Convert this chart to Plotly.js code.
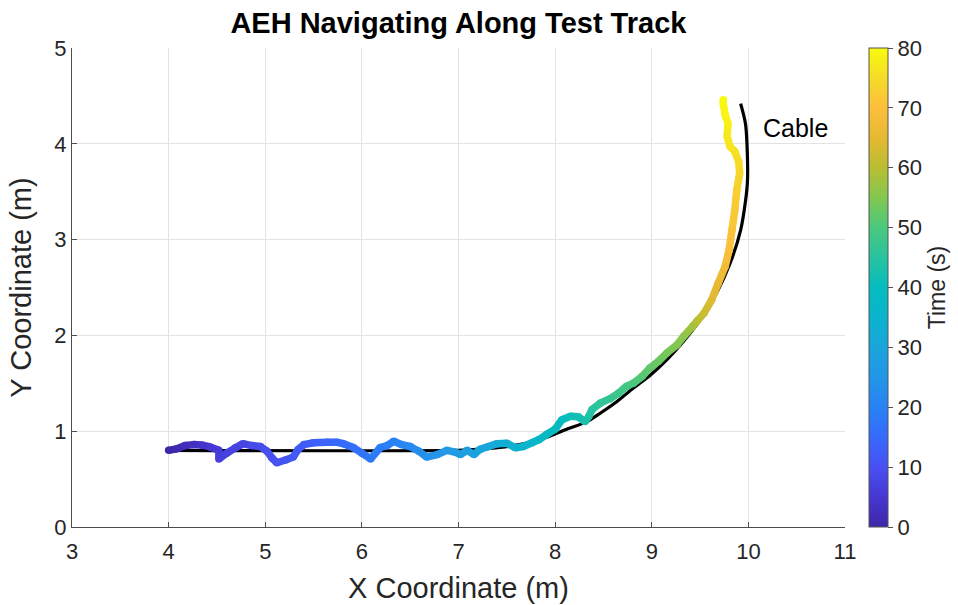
<!DOCTYPE html>
<html>
<head>
<meta charset="utf-8">
<script src="https://cdn.plot.ly/plotly-3.0.1.min.js"></script>
<style>html,body{margin:0;padding:0;background:#fff;}#chart{width:958px;height:605px;}</style>
</head>
<body>
<div id="chart"></div>
<script>
// Cable path
const cableX = [4.0, 7.0, 7.2, 7.43, 7.6, 7.78, 7.95, 8.12, 8.33, 8.47, 8.64, 8.81, 8.99, 9.16, 9.33, 9.50, 9.67, 9.81, 9.92, 9.97, 9.99, 9.99, 9.97, 9.92];
const cableY = [0.8, 0.8, 0.81, 0.83, 0.855, 0.895, 0.95, 1.02, 1.10, 1.19, 1.31, 1.45, 1.59, 1.75, 1.94, 2.16, 2.44, 2.75, 3.10, 3.40, 3.60, 3.87, 4.21, 4.42];

// AEH trajectory
const trajX = [4.00,4.08,4.17,4.26,4.34,4.43,4.52,4.52,4.60,4.69,4.77,4.86,4.95,5.02,5.07,5.12,5.21,5.29,5.34,5.40,5.50,5.64,5.74,5.81,5.91,6.00,6.09,6.19,6.26,6.33,6.41,6.50,6.59,6.67,6.78,6.88,6.97,7.02,7.09,7.16,7.22,7.31,7.40,7.50,7.59,7.67,7.76,7.83,7.91,8.00,8.07,8.16,8.24,8.31,8.35,8.38,8.47,8.57,8.66,8.74,8.81,8.90,8.98,9.07,9.16,9.26,9.33,9.42,9.47,9.54,9.62,9.69,9.76,9.80,9.83,9.86,9.88,9.91,9.90,9.86,9.81,9.78,9.79,9.76,9.74,9.74];
const trajY = [0.80,0.815,0.85,0.86,0.857,0.836,0.80,0.71,0.77,0.826,0.87,0.85,0.84,0.79,0.72,0.67,0.70,0.73,0.81,0.86,0.88,0.885,0.885,0.87,0.83,0.77,0.71,0.83,0.85,0.895,0.86,0.84,0.79,0.73,0.756,0.80,0.78,0.756,0.80,0.756,0.81,0.84,0.87,0.875,0.826,0.84,0.88,0.91,0.965,1.02,1.12,1.155,1.15,1.10,1.155,1.225,1.295,1.34,1.40,1.47,1.50,1.57,1.66,1.73,1.82,1.90,1.99,2.09,2.15,2.23,2.37,2.55,2.72,2.89,3.10,3.31,3.52,3.69,3.81,3.92,3.97,4.08,4.21,4.30,4.42,4.46];
const trajT = [0,1,2,3,4,5,6,6.5,7,7.5,8,8.5,9,9.5,10,10.5,11,11.5,12,12.5,13,14,15,15.5,16,17,18,19,19.5,20,21,22,23,24,25,26,27,27.5,28,29,30,31,32,33,34,35,36,37,38,39,40,41,42,43,44,45,46,47,48,49,50,51,52,53,54,55,56,58,60,62,64,66,68,70,71,72,73,74,75,76,76.5,77,78,79,79.5,80];

const xTicks = [3,4,5,6,7,8,9,10,11];
const yTicks = [0,1,2,3,4,5];
const cbTicks = [0,10,20,30,40,50,60,70,80];

const parula = [
  [0.0,[62,38,168]],[0.0625,[70,55,210]],[0.125,[72,80,242]],[0.1875,[55,105,252]],
  [0.25,[40,130,245]],[0.3125,[35,150,232]],[0.375,[25,165,220]],[0.4375,[10,180,205]],
  [0.5,[5,188,190]],[0.5625,[40,195,160]],[0.625,[75,200,125]],[0.6875,[130,200,80]],
  [0.75,[185,190,50]],[0.8125,[230,185,50]],[0.875,[252,190,60]],[0.9375,[245,220,40]],
  [1.0,[249,251,14]]
];
const colorscale = parula.map(s => [s[0], 'rgb(' + s[1].join(',') + ')']);
function colorAt(v) {
  const f = Math.max(0, Math.min(1, v / 80));
  for (let i = 1; i < parula.length; i++) {
    if (f <= parula[i][0]) {
      const a = parula[i-1], b = parula[i];
      const r = (f - a[0]) / (b[0] - a[0]);
      const c = a[1].map((x, k) => Math.round(x + (b[1][k] - x) * r));
      return 'rgb(' + c.join(',') + ')';
    }
  }
  return 'rgb(249,251,14)';
}

const FONT = 'Liberation Sans, Arial, sans-serif';
const traces = [];
traces.push({x: cableX, y: cableY, type: 'scatter', mode: 'lines', line: {color: '#000', width: 3.2, shape: 'spline', smoothing: 0.8}, hoverinfo: 'skip', showlegend: false});
for (let i = 0; i < trajX.length - 1; i++) {
  traces.push({x: [trajX[i], trajX[i+1]], y: [trajY[i], trajY[i+1]], type: 'scatter', mode: 'lines',
    line: {color: colorAt((trajT[i] + trajT[i+1]) / 2), width: 7.5}, hoverinfo: 'skip', showlegend: false});
}
traces.push({x: trajX, y: trajY, type: 'scatter', mode: 'markers', showlegend: false,
  marker: {size: 7.5, color: trajT, colorscale: colorscale, cmin: 0, cmax: 80, line: {width: 0},
    colorbar: {x: 1.031, xanchor: 'left', xpad: 0, y: 0.5, yanchor: 'middle', len: 1, lenmode: 'fraction', ypad: 0,
      thickness: 19, outlinewidth: 1, outlinecolor: '#555', tickvals: cbTicks, ticks: 'outside', ticklen: 5, tickcolor: '#555',
      tickfont: {family: FONT, size: 22, color: '#262626'},
      title: {text: 'Time (s)', side: 'right', font: {family: FONT, size: 23, color: '#262626'}}}}});

const layout = {
  width: 958, height: 605,
  margin: {l: 72, r: 113, t: 48, b: 78, autoexpand: false},
  paper_bgcolor: '#fff', plot_bgcolor: '#fff',
  title: {text: '<b>AEH Navigating Along Test Track</b>', x: 0.4785, xanchor: 'center', y: 0.962, yanchor: 'middle',
    font: {family: FONT, size: 29, color: '#000'}},
  xaxis: {range: [3, 11], tickvals: xTicks, showgrid: true, gridcolor: '#e3e3e3', zeroline: false,
    showline: true, linecolor: '#4d4d4d', linewidth: 1, mirror: false, ticks: 'inside', ticklen: 5, tickcolor: '#4d4d4d',
    ticklabelstandoff: 5,
    tickfont: {family: FONT, size: 22, color: '#262626'},
    title: {text: 'X Coordinate (m)', font: {family: FONT, size: 29, color: '#262626'}, standoff: 14}},
  yaxis: {range: [0, 5], tickvals: yTicks, showgrid: true, gridcolor: '#e3e3e3', zeroline: false,
    showline: true, linecolor: '#4d4d4d', linewidth: 1, mirror: false, ticks: 'inside', ticklen: 5, tickcolor: '#4d4d4d',
    tickfont: {family: FONT, size: 22, color: '#262626'},
    title: {text: 'Y Coordinate (m)', font: {family: FONT, size: 29, color: '#262626'}, standoff: 14}},
  annotations: [{x: 10.49, y: 4.17, xref: 'x', yref: 'y', text: 'Cable', showarrow: false,
    font: {family: FONT, size: 25, color: '#000'}, xanchor: 'center', yanchor: 'middle'}]
};
Plotly.newPlot('chart', traces, layout, {displayModeBar: false, staticPlot: true});
</script>
</body>
</html>
